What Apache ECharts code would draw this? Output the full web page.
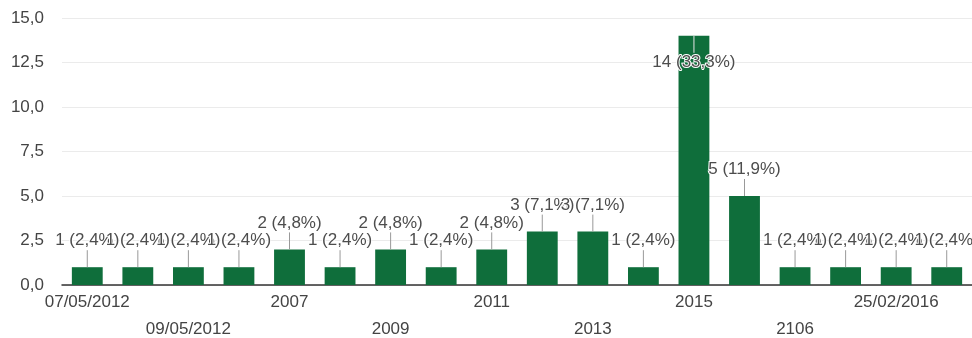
<!DOCTYPE html>
<html>
<head>
<meta charset="utf-8">
<script src="https://cdn.jsdelivr.net/npm/echarts@6/dist/echarts.min.js"></script>
<style>
  html, body { margin: 0; padding: 0; background: #fff; }
  #chart { width: 972px; height: 338px; }
</style>
</head>
<body>
<div id="chart"></div>
<script>
// Answers per category (only every other category name is printed on the axis)
const categories = [
  '07/05/2012', '08/05/2012', '09/05/2012', '2006', '2007', '2008',
  '2009', '2010', '2011', '2012', '2013', '2014',
  '2015', '2016', '2106', '24/02/2016', '25/02/2016', '26/02/2016'
];
const counts = [1, 1, 1, 1, 2, 1, 2, 1, 2, 3, 3, 1, 14, 5, 1, 1, 1, 1];
const yTicks = { min: 0, max: 15, step: 2.5 };

const total = counts.reduce((a, b) => a + b, 0);
const fmt = (n, d) => n.toFixed(d).replace('.', ',');
const labelText = v => v + ' (' + fmt(v / total * 100, 1) + '%)';
// Bars too tall for an annotation above them carry it inside, below the top
const inside = v => v / yTicks.max > 0.85;

const GREEN = '#0f6e3b';
const FONT = '"Liberation Sans", Arial, sans-serif';
const STEM = 17;

const chart = echarts.init(document.getElementById('chart'), null, { renderer: 'canvas' });

chart.setOption({
  backgroundColor: '#fff',
  animation: false,
  grid: {
    left: 62, right: 0, top: 18, bottom: 53,
    containLabel: false,
    outerBoundsMode: 'none'
  },
  xAxis: {
    type: 'category',
    data: categories,
    axisTick: { show: false },
    axisLine: { lineStyle: { color: '#333', width: 1.5 } },
    axisLabel: {
      interval: 1,
      margin: 4,
      color: '#444',
      fontFamily: FONT,
      fontSize: 17,
      lineHeight: 27,
      formatter: (v, i) => (i % 4 === 2 ? '\n' + v : v)
    }
  },
  yAxis: {
    type: 'value',
    min: yTicks.min,
    max: yTicks.max,
    interval: yTicks.step,
    axisLine: { show: false },
    axisTick: { show: false },
    splitLine: { lineStyle: { color: '#ebebeb', width: 1 } },
    axisLabel: {
      margin: 18,
      color: '#444',
      fontFamily: FONT,
      fontSize: 17,
      formatter: v => fmt(v, 1)
    }
  },
  series: [
    {
      type: 'bar',
      barWidth: '61%',
      itemStyle: { color: GREEN },
      data: counts.map(v => ({
        value: v,
        label: inside(v) ? { position: 'insideTop', distance: STEM + 1 } : {}
      })),
      label: {
        show: true,
        position: 'top',
        distance: STEM + 1,
        color: '#4d4d4d',
        fontFamily: FONT,
        fontSize: 17,
        textBorderColor: '#fff',
        textBorderWidth: 2,
        formatter: p => labelText(p.value)
      },
      z: 2
    },
    {
      // annotation stems joining each bar top to its label
      type: 'custom',
      silent: true,
      z: 3,
      data: counts.map((v, i) => [i, v]),
      renderItem: (params, api) => {
        const v = api.value(1);
        const p = api.coord([api.value(0), v]);
        const down = inside(v);
        return {
          type: 'line',
          shape: { x1: p[0], y1: p[1], x2: p[0], y2: p[1] + (down ? STEM : -STEM) },
          style: { stroke: down ? '#e6e6e6' : '#999', lineWidth: 1 }
        };
      }
    }
  ]
});
</script>
</body>
</html>
